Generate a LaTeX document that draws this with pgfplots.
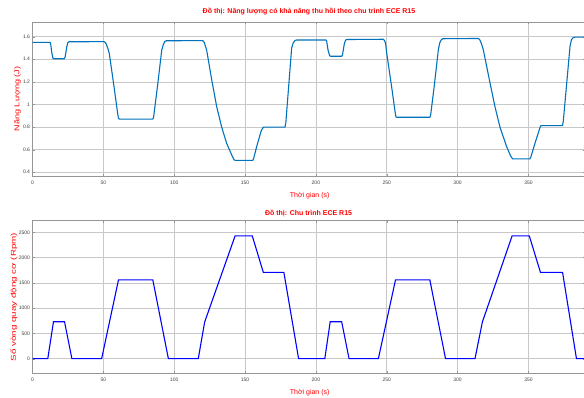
\documentclass[border=0pt]{standalone}
\usepackage{pgfplots}
\pgfplotsset{compat=1.18}
\usepackage{fontspec}
\setmainfont{Liberation Sans}
\definecolor{mblue}{RGB}{0,114,189}
\definecolor{gridc}{RGB}{200,200,200}
\definecolor{boxc}{RGB}{150,150,150}
\begin{document}
\begin{tikzpicture}
\pgfplotsset{
  myax/.style={
    scale only axis, width=552.6pt,
    xmin=0, xmax=390,
    xtick={0,50,...,350},
    grid=major,
    major grid style={gridc, line width=0.5pt},
    axis line style={boxc, line width=0.5pt},
    tick style={boxc},
    major tick length=2pt,
    tick align=inside,
    /pgf/number format/assume math mode=true,
    /pgf/number format/1000 sep={},
    tick label style={font=\fontsize{5}{6}\selectfont, text=black!75},
    xticklabel style={yshift=-1pt},
    yticklabel style={xshift=1pt},
    axis background/.style={fill=white},
    clip=true,
  }
}
% ---------- top axis ----------
\begin{axis}[myax, at={(32.5pt,222pt)}, anchor=south west, height=154pt,
  ymin=0.367, ymax=1.73,
  ytick={0.4,0.6,0.8,1,1.2,1.4,1.6},
  yticklabels={0.4,0.6,0.8,1,1.2,1.4,1.6}]
\addplot[mblue, line width=1.1pt] coordinates {
(0,1.550) (12.3,1.550) (12.8,1.538) (13.6,1.46) (14.3,1.413) (15,1.405) (22.4,1.405) (23,1.418) (24.2,1.51) (25,1.548) (25.8,1.555) (50.5,1.556) (51.5,1.547) (52.3,1.527) (53.2,1.495) (54.2,1.450) (57.4,1.170) (60,0.930) (60.6,0.880) (61.3,0.870) (84.8,0.870) (85.4,0.882) (88.2,1.160) (91.2,1.480) (92.3,1.530) (93.3,1.556) (94.4,1.564) (120.1,1.565) (121.2,1.550) (122.9,1.482) (126.5,1.217) (130,0.980) (133.5,0.800) (137,0.657) (140.6,0.553) (142.2,0.512) (143,0.505) (155.4,0.505) (156.1,0.522) (158.2,0.627) (161.5,0.770) (162.9,0.798) (163.5,0.800) (178.2,0.800) (178.8,0.840) (182.9,1.500) (184.0,1.545) (185.3,1.566) (186.4,1.571)
(207.1,1.571) (207.6,1.560) (208.6,1.480) (209.7,1.432) (210.4,1.427) (218.2,1.427) (218.8,1.440) (220.1,1.540) (221,1.570) (222,1.575) (247.4,1.577) (248.4,1.568) (249.2,1.540) (250,1.453) (253.3,1.170) (255.9,0.935) (256.5,0.890) (257.2,0.887) (280.3,0.887) (280.9,0.897) (283.6,1.170) (286.4,1.482) (287.4,1.545) (288.5,1.572) (289.5,1.582) (314.6,1.584) (315.6,1.574) (316.8,1.540) (318.2,1.482) (322.9,1.190) (326.4,0.980) (329.9,0.800) (334.6,0.627) (337.6,0.540) (338.9,0.518) (351.0,0.518) (351.7,0.534) (355,0.672) (358.3,0.800) (358.9,0.813) (374.0,0.813) (374.6,0.850) (379.4,1.520) (380.4,1.574) (381.6,1.592) (383,1.596) (390,1.596)
};
\end{axis}
% ---------- bottom axis ----------
\begin{axis}[myax, at={(32.5pt,24.7pt)}, anchor=south west, height=152.6pt,
  ymin=-290, ymax=2730,
  ytick={0,500,1000,1500,2000,2500}]
\addplot[blue, line width=1.1pt] coordinates {
(0,0) (10.8,0) (14.8,730) (22.6,730) (27.8,0) (48.8,0) (60.7,1560) (84.9,1560) (95.9,0) (117,0) (121.5,725) (143,2430) (155.1,2430) (162.9,1708) (177.4,1708) (187.8,0) (206.3,0) (210.1,730) (218.2,730) (223.4,0) (244.1,0) (256.2,1560) (280.4,1560) (291.5,0) (312.3,0) (317.5,725) (338.5,2430) (350.6,2430) (358.5,1708) (374.1,1708) (383.9,0) (390,0)
};
\end{axis}
% ---------- texts ----------
\node[text=red, font=\fontsize{7}{8}\selectfont\bfseries] at (309pt,386pt) {Đồ thị: Năng lượng có khả năng thu hồi theo chu trình ECE R15};
\node[text=red, font=\fontsize{7}{8}\selectfont] at (309.7pt,202.3pt) {Thời gian (s)};
\node[text=red, font=\fontsize{7}{8}\selectfont\bfseries] at (308.6pt,185pt) {Đồ thị: Chu trình ECE R15};
\node[text=red, font=\fontsize{7}{8}\selectfont] at (309.7pt,5pt) {Thời gian (s)};
\node[text=red, font=\fontsize{7}{8}\selectfont, rotate=90, xscale=1.3] at (17.5pt,299pt) {Năng Lượng (J)};
\node[text=red, font=\fontsize{7}{8}\selectfont, rotate=90, xscale=1.4] at (14pt,101pt) {Số vòng quay động cơ (Rpm)};
\pgfresetboundingbox
\path (0pt,0pt) rectangle (584pt,398pt);
\end{tikzpicture}
\end{document}
